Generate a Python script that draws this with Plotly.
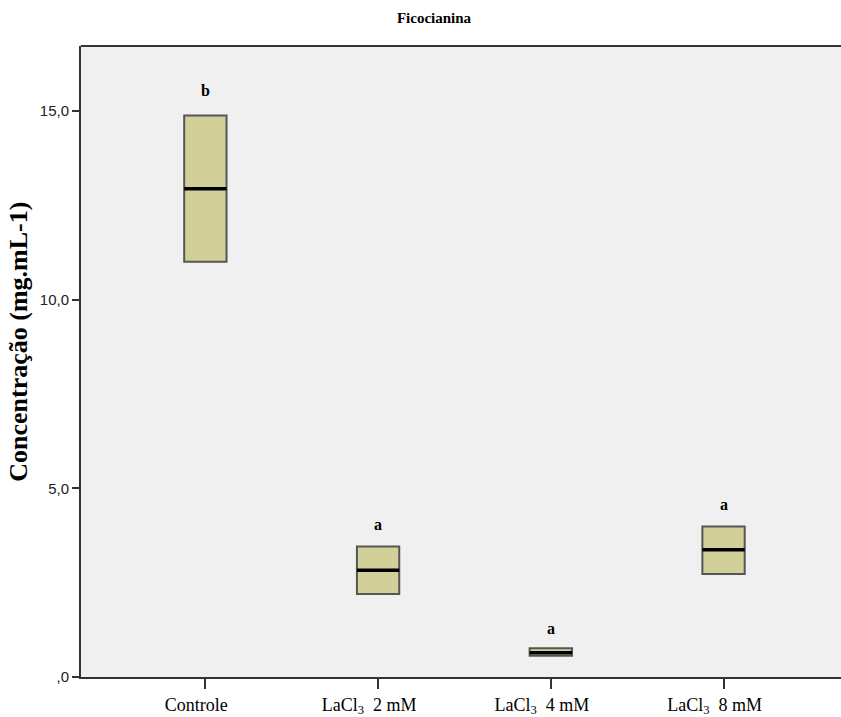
import plotly.graph_objects as go

categories = ["Controle", "LaCl<sub>3</sub>  2 mM", "LaCl<sub>3</sub>  4 mM", "LaCl<sub>3</sub>  8 mM"]
q1 = [11.0, 2.2, 0.56, 2.73]
median = [12.94, 2.83, 0.64, 3.37]
q3 = [14.88, 3.46, 0.76, 3.99]
lower = [11.0, 2.2, 0.56, 2.73]
upper = [14.88, 3.46, 0.76, 3.99]
letters = ["b", "a", "a", "a"]
letter_y = [15.53, 4.05, 1.29, 4.58]
ytick_vals = [0, 5, 10, 15]
ytick_text = [",0", "5,0", "10,0", "15,0"]

W, H = 841, 717
L, T, B = 81, 45.7, 36

xpos = list(range(len(categories)))
fig = go.Figure()
fig.add_trace(go.Box(
    x=xpos, q1=q1, median=median, q3=q3, lowerfence=lower, upperfence=upper,
    width=0.245, whiskerwidth=0.5,
    fillcolor="#d3cf98", line=dict(color="#555555", width=2),
    boxpoints=False, showlegend=False, hoverinfo="skip",
))
hw = 0.1225
for i, m in enumerate(median):
    fig.add_trace(go.Scatter(x=[i - hw, i + hw], y=[m, m], mode="lines",
                             line=dict(color="black", width=3.5), showlegend=False,
                             hoverinfo="skip"))

for i, (t, yv) in enumerate(zip(letters, letter_y)):
    fig.add_annotation(x=i, y=yv, text=f"<b>{t}</b>", showarrow=False,
                       font=dict(family="Liberation Serif", size=16, color="black"))

fig.add_annotation(xref="paper", yref="paper", x=-(81 - 19) / (W - L),
                   y=(681 - 343.5) / (681 - 45.7), xanchor="center", yanchor="middle",
                   textangle=-90, text="<b>Concentração (mg.mL-1)</b>", showarrow=False,
                   font=dict(family="Liberation Serif", size=26, color="black"))

fig.update_layout(
    width=W, height=H,
    margin=dict(l=L, r=0, t=T, b=B),
    paper_bgcolor="white", plot_bgcolor="#f0f0f0",
    title=dict(text="<b>Ficocianina</b>", xref="container", yref="container",
               x=434 / W, y=1 - 17.5 / H, xanchor="center", yanchor="middle",
               font=dict(family="Liberation Serif", size=15, color="black")),
    xaxis=dict(range=[-0.72, 3.68], tickvals=xpos, ticktext=categories,
               showgrid=False, zeroline=False, ticks="outside", ticklen=10,
               tickwidth=1.5, tickcolor="#333333", showline=True, linecolor="#333333",
               linewidth=2, mirror=False, ticklabelshift=-9,
               tickfont=dict(family="Liberation Serif", size=18, color="black")),
    yaxis=dict(range=[0, 16.72], tickvals=ytick_vals, ticktext=ytick_text,
               showgrid=False, zeroline=False, ticks="outside", ticklen=7,
               tickwidth=1.5, tickcolor="#333333", showline=True, linecolor="#333333",
               linewidth=2,
               tickfont=dict(family="Liberation Sans", size=15, color="#222222")),
)
fig.add_shape(type="line", xref="paper", yref="paper", x0=0, x1=1, y0=1, y1=1,
              line=dict(color="#333333", width=2))

fig.write_html("out.html", config={"displayModeBar": False},
               post_script="document.body.style.margin='0';document.body.style.overflow='hidden';")
